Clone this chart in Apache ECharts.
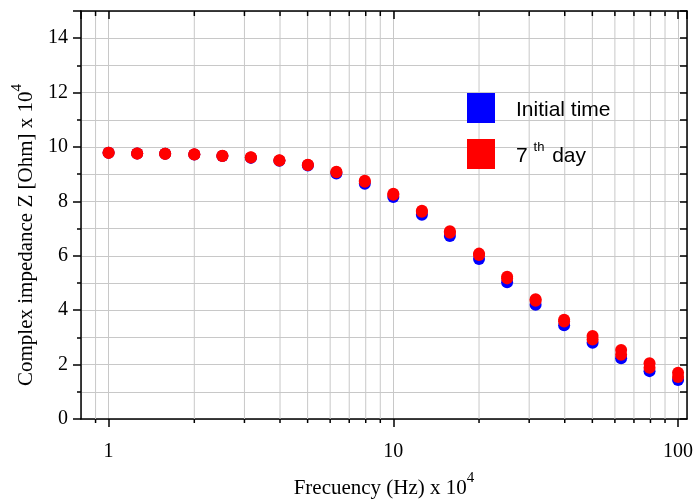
<!DOCTYPE html>
<html>
<head>
<meta charset="utf-8">
<script src="https://cdn.jsdelivr.net/npm/echarts@6/dist/echarts.min.js"></script>
<style>html,body{margin:0;padding:0;background:#fff}#c{width:695px;height:502px}</style>
</head>
<body>
<div id="c"></div>
<script>
// Frequency (Hz x 10^4)
const freq = [1, 1.26, 1.58, 2, 2.51, 3.16, 3.98, 5.01, 6.31, 7.94, 10, 12.6, 15.8, 20, 25.1, 31.6, 39.8, 50.1, 63.1, 79.4, 100];
// Complex impedance Z (Ohm x 10^4)
const initialTime = [9.79, 9.76, 9.75, 9.72, 9.67, 9.60, 9.49, 9.32, 9.03, 8.65, 8.16, 7.51, 6.73, 5.88, 5.03, 4.20, 3.45, 2.80, 2.23, 1.76, 1.43];
const day7 = [9.79, 9.76, 9.75, 9.73, 9.68, 9.62, 9.51, 9.35, 9.09, 8.76, 8.28, 7.66, 6.90, 6.08, 5.23, 4.40, 3.65, 3.05, 2.54, 2.05, 1.70];
const day7b = [9.79, 9.76, 9.75, 9.72, 9.67, 9.61, 9.50, 9.34, 9.07, 8.72, 8.24, 7.62, 6.85, 6.03, 5.17, 4.35, 3.58, 2.92, 2.36, 1.88, 1.54];
// minor tick positions on the log frequency axis
const minorX = [0.9, 2, 3, 4, 5, 6, 7, 8, 9, 20, 30, 40, 50, 60, 70, 80, 90];

const serif = 'Liberation Serif';
const grid = '#c8c8c8';
const pair = (xs, ys) => xs.map((x, i) => [x, ys[i]]);

const chart = echarts.init(document.getElementById('c'), null, {renderer: 'canvas'});
chart.setOption({
  animation: false,
  backgroundColor: '#fff',
  grid: {left: 81, top: 11, right: 8, bottom: 83, containLabel: false, outerBoundsMode: 'none'},
  legend: {
    data: ['Initial time', '7th day'],
    orient: 'vertical',
    left: 462, top: 88,
    itemWidth: 28, itemHeight: 30, itemGap: 16,
    icon: 'rect',
    itemStyle: {opacity: 1},
    formatter: function (n) { return n === '7th day' ? '{a|7 }{s|th}{a| day}' : '{a|' + n + '}'; },
    textStyle: {
      padding: [0, 0, 0, 16],
      rich: {
        a: {fontFamily: 'Liberation Sans', fontSize: 21, color: '#000', lineHeight: 26, verticalAlign: 'bottom'},
        s: {fontFamily: 'Liberation Sans', fontSize: 13, color: '#000', lineHeight: 26, verticalAlign: 'top', padding: [0, 2, 0, 0]}
      }
    }
  },
  xAxis: [{
    type: 'log', logBase: 10, min: 0.8, max: 107.5,
    position: 'bottom',
    name: '{n|Frecuency (Hz) x 10}{s|4}',
    nameLocation: 'middle', nameGap: 52,
    nameTextStyle: {rich: {
      n: {fontFamily: serif, fontSize: 21, color: '#000', lineHeight: 28, verticalAlign: 'bottom'},
      s: {fontFamily: serif, fontSize: 15, color: '#000', lineHeight: 28, verticalAlign: 'top'}
    }},
    axisLine: {show: true, onZero: false, lineStyle: {color: '#000', width: 1.5}},
    axisTick: {show: true, length: 8, lineStyle: {color: '#000', width: 1.5}},
    axisLabel: {fontFamily: serif, fontSize: 20, color: '#000', margin: 23, showMinLabel: false, showMaxLabel: false},
    splitLine: {show: true, lineStyle: {color: grid, width: 1}}
  }, {
    type: 'log', logBase: 10, min: 0.8, max: 107.5,
    position: 'top',
    axisLine: {show: true, onZero: false, lineStyle: {color: '#000', width: 1.5}},
    axisTick: {show: true, inside: true, length: 8, lineStyle: {color: '#000', width: 1.5}},
    axisLabel: {show: false},
    splitLine: {show: false}
  }],
  yAxis: [{
    type: 'value', min: 0, max: 15, interval: 2,
    position: 'left',
    name: '{n|Complex impedance Z [Ohm] x 10}{s|4}',
    nameLocation: 'middle', nameGap: 40, nameRotate: 90,
    nameTextStyle: {padding: [0, 40, 0, 0], rich: {
      n: {fontFamily: serif, fontSize: 21, color: '#000', lineHeight: 28, verticalAlign: 'bottom'},
      s: {fontFamily: serif, fontSize: 15, color: '#000', lineHeight: 28, verticalAlign: 'top'}
    }},
    axisLine: {show: true, onZero: false, lineStyle: {color: '#000', width: 1.5}},
    axisTick: {show: true, length: 8, lineStyle: {color: '#000', width: 1.5}},
    minorTick: {show: true, splitNumber: 2, length: 4, lineStyle: {color: '#000', width: 1.5}},
    axisLabel: {fontFamily: serif, fontSize: 20, color: '#000', margin: 13, showMaxLabel: false},
    splitLine: {show: true, lineStyle: {color: grid, width: 1}},
    minorSplitLine: {show: true, lineStyle: {color: grid, width: 1}}
  }, {
    type: 'value', min: 0, max: 15, interval: 2,
    position: 'right',
    axisLine: {show: true, onZero: false, lineStyle: {color: '#000', width: 1.5}},
    axisTick: {show: true, inside: true, length: 7, lineStyle: {color: '#000', width: 1.5}},
    minorTick: {show: true, splitNumber: 2, length: 7, lineStyle: {color: '#000', width: 1.5}},
    axisLabel: {show: false},
    splitLine: {show: false}
  }],
  series: [{
    type: 'custom',
    name: 'minorX',
    xAxisIndex: 0, yAxisIndex: 0,
    clip: false, silent: true, z: 1,
    data: minorX.map(v => [v, 0]),
    renderItem: function (params, api) {
      const cs = params.coordSys;
      const x = api.coord([api.value(0), 0])[0];
      const top = cs.y, bot = cs.y + cs.height;
      return {type: 'group', children: [
        {type: 'line', shape: {x1: x, y1: top, x2: x, y2: bot}, style: {stroke: grid, lineWidth: 1}, z2: 0},
        {type: 'line', shape: {x1: x, y1: bot, x2: x, y2: bot + 4}, style: {stroke: '#000', lineWidth: 1.5}, z2: 1},
        {type: 'line', shape: {x1: x, y1: top, x2: x, y2: top + 5}, style: {stroke: '#000', lineWidth: 1.5}, z2: 1}
      ]};
    }
  }, {
    type: 'scatter', name: 'Initial time', symbol: 'circle', symbolSize: 12,
    itemStyle: {color: '#0000ff', opacity: 1}, z: 3,
    data: pair(freq, initialTime)
  }, {
    type: 'scatter', name: '7th day', symbol: 'circle', symbolSize: 12,
    itemStyle: {color: '#ff0000', opacity: 1}, z: 4,
    data: pair(freq, day7)
  }, {
    type: 'scatter', name: '7th day b', symbol: 'circle', symbolSize: 12,
    itemStyle: {color: '#ff0000', opacity: 1}, z: 4,
    data: pair(freq, day7b)
  }]
});
</script>
</body>
</html>
